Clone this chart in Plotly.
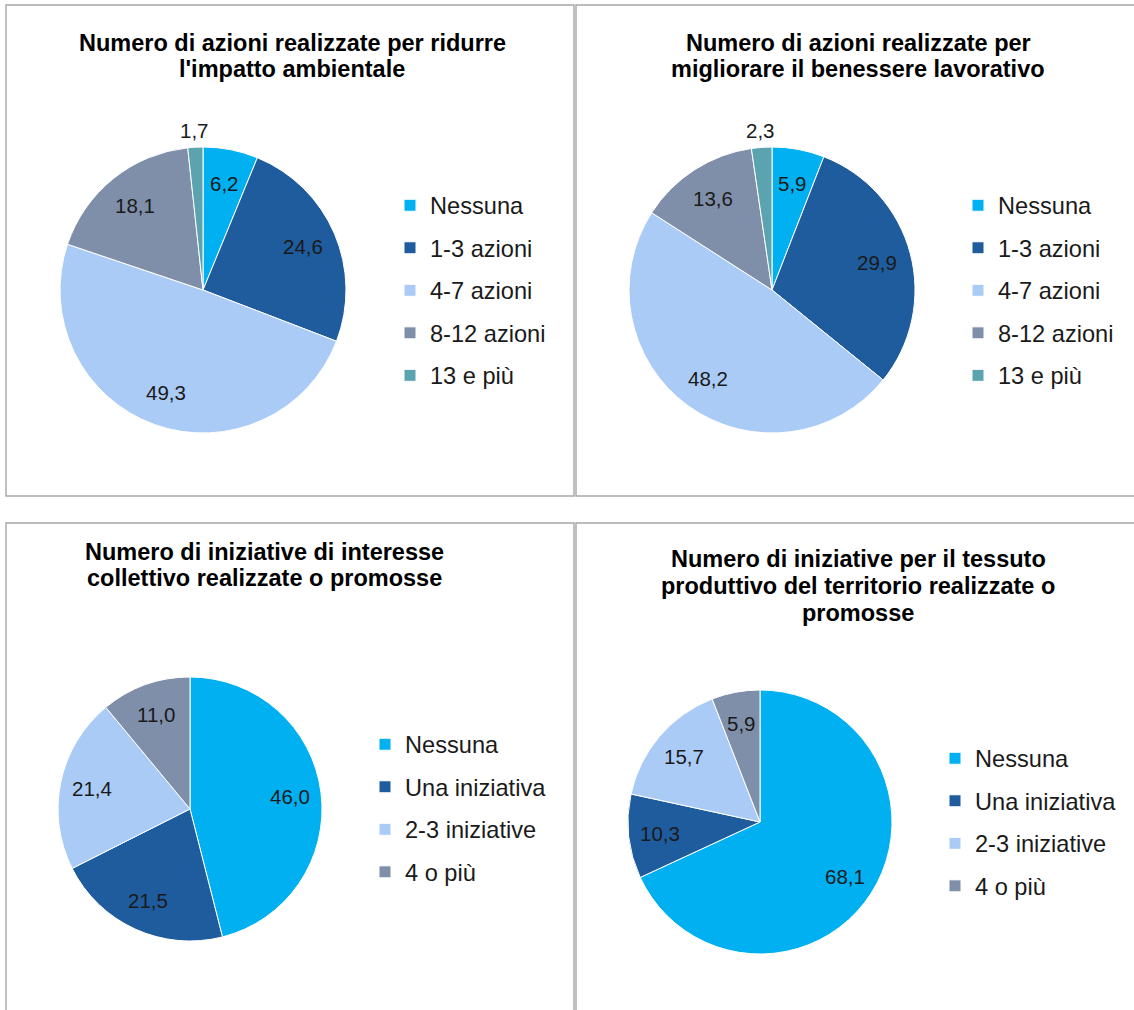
import math
import plotly.graph_objects as go

W, H = 1134, 1010

# ---- data -------------------------------------------------------------
cat_azioni = ["Nessuna", "1-3 azioni", "4-7 azioni", "8-12 azioni", "13 e più"]
cat_iniziative = ["Nessuna", "Una iniziativa", "2-3 iniziative", "4 o più"]

val_ambiente = [6.2, 24.6, 49.3, 18.1, 1.7]
val_benessere = [5.9, 29.9, 48.2, 13.6, 2.3]
val_collettivo = [46.0, 21.5, 21.4, 11.0]
val_territorio = [68.1, 10.3, 15.7, 5.9]

titolo_ambiente = ["Numero di azioni realizzate per ridurre", "l'impatto ambientale"]
titolo_benessere = ["Numero di azioni realizzate per", "migliorare il benessere lavorativo"]
titolo_collettivo = ["Numero di iniziative di interesse", "collettivo realizzate o promosse"]
titolo_territorio = ["Numero di iniziative per il tessuto",
                     "produttivo del territorio realizzate o", "promosse"]

colori = ["#00B0F0", "#1F5C9E", "#ABCBF7", "#7F8FA9", "#5BA3AE"]

# ---- layout of the four panels (pixels) -------------------------------
pannelli = [
    dict(cat=cat_azioni, val=val_ambiente, titolo=titolo_ambiente,
         cx=203, cy=290, r=143, tx=292, ty=[43, 69],
         box=(6, 5, 574, 496), leg=(390, 179)),
    dict(cat=cat_azioni, val=val_benessere, titolo=titolo_benessere,
         cx=772, cy=290, r=143, tx=858, ty=[43, 69],
         box=(576, 5, 1140, 496), leg=(958, 179)),
    dict(cat=cat_iniziative, val=val_collettivo, titolo=titolo_collettivo,
         cx=190, cy=809, r=132, tx=264, ty=[552, 578],
         box=(6, 523, 574, 1016), leg=(365, 718)),
    dict(cat=cat_iniziative, val=val_territorio, titolo=titolo_territorio,
         cx=760, cy=822, r=132, tx=858, ty=[559, 586, 613],
         box=(576, 523, 1140, 1016), leg=(935, 732)),
]

LEG_FONT = 30.4      # sets the row pitch of the legend entries
TXT_FONT = 23.6      # visible size of the legend text


def px(x):
    return x / W


def py(y):
    return 1 - y / H


def fmt(v):
    return f"{v:.1f}".replace(".", ",")


fig = go.Figure()
annotations = []
shapes = []
layout_legends = {}

for i, p in enumerate(pannelli):
    leg_name = "legend" if i == 0 else f"legend{i + 1}"
    cx, cy, r = p["cx"], p["cy"], p["r"]
    n = len(p["val"])
    # each pie keeps its own legend entries (a per-chart style tag keeps
    # identical category names from being merged across the four pies)
    fig.add_trace(go.Pie(
        labels=[f"<span style='font-size:{TXT_FONT}px;baseline-shift:3.5px;"
                f"word-spacing:0.00{i}px'>{c}</span>" for c in p["cat"]],
        values=p["val"],
        sort=False,
        direction="clockwise",
        rotation=0,
        textinfo="none",
        hoverinfo="label+value",
        marker=dict(colors=colori[:n], line=dict(color="white", width=1)),
        domain=dict(x=[px(cx - r), px(cx + r)], y=[py(cy + r), py(cy - r)]),
        legend=leg_name,
        showlegend=True,
    ))

    # value labels placed along each slice's mid angle
    tot = sum(p["val"])
    cum = 0.0
    for v in p["val"]:
        theta = 2 * math.pi * (cum + v / 2) / tot
        cum += v
        k = 1.12 if v / tot < 0.03 else 0.76
        x = cx + k * r * math.sin(theta)
        y = cy - k * r * math.cos(theta)
        annotations.append(dict(
            x=px(x), y=py(y), xref="paper", yref="paper",
            text=fmt(v), showarrow=False, xanchor="center", yanchor="middle",
            font=dict(family="Liberation Sans, Arial, sans-serif", size=20.5,
                      color="#1a1a1a"),
        ))

    # chart title, one line at a time
    for line, ty in zip(p["titolo"], p["ty"]):
        annotations.append(dict(
            x=px(p["tx"]), y=py(ty), xref="paper", yref="paper",
            text=f"<b>{line}</b>", showarrow=False,
            xanchor="center", yanchor="middle",
            font=dict(family="Liberation Sans, Arial, sans-serif", size=23.5,
                      color="#000000"),
        ))

    # panel frame
    x0, y0, x1, y1 = p["box"]
    shapes.append(dict(type="rect", xref="paper", yref="paper",
                       x0=px(x0), x1=px(x1), y0=py(y1), y1=py(y0),
                       line=dict(color="#A6A6A6", width=1.4),
                       fillcolor="rgba(0,0,0,0)", layer="below"))

    lx, ly = p["leg"]
    layout_legends[leg_name] = dict(
        x=px(lx), y=py(ly), xanchor="left", yanchor="top",
        bgcolor="rgba(0,0,0,0)", borderwidth=0,
        font=dict(family="Liberation Sans, Arial, sans-serif", size=LEG_FONT,
                  color="#1a1a1a"),
        orientation="v", itemclick=False, itemdoubleclick=False,
    )

fig.update_layout(
    width=W, height=H, autosize=False,
    margin=dict(l=0, r=0, t=0, b=0),
    paper_bgcolor="white", plot_bgcolor="white",
    annotations=annotations, shapes=shapes,
    **layout_legends,
)

fig.write_html("out.html")
